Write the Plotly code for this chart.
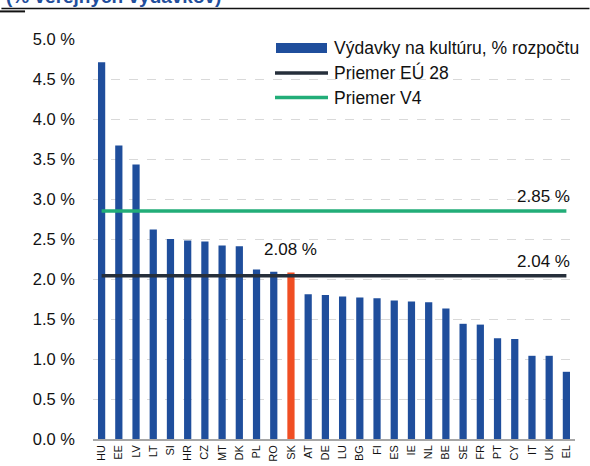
import plotly.graph_objects as go

categories = ["HU", "EE", "LV", "LT", "SI", "HR", "CZ", "MT", "DK", "PL", "RO", "SK",
              "AT", "DE", "LU", "BG", "FI", "ES", "IE", "NL", "BE", "SE", "FR", "PT",
              "CY", "IT", "UK", "EL"]
culture_share = [4.71, 3.67, 3.43, 2.62, 2.50, 2.48, 2.47, 2.42, 2.41, 2.12, 2.09, 2.08,
                 1.81, 1.80, 1.78, 1.77, 1.76, 1.73, 1.72, 1.71, 1.63, 1.44, 1.43, 1.26,
                 1.25, 1.04, 1.04, 0.84]
highlight = "SK"
highlight_label = "2.08 %"
eu28_avg = 2.04
v4_avg = 2.85
eu28_label = "2.04 %"
v4_label = "2.85 %"
y_tickvals = [0.0, 0.5, 1.0, 1.5, 2.0, 2.5, 3.0, 3.5, 4.0, 4.5, 5.0]
y_ticktext = ["0.0 %", "0.5 %", "1.0 %", "1.5 %", "2.0 %", "2.5 %", "3.0 %", "3.5 %",
              "4.0 %", "4.5 %", "5.0 %"]
legend_names = ["Výdavky na kultúru, % rozpočtu", "Priemer EÚ 28", "Priemer V4"]
title_text = "(% verejných výdavkov)"

BLUE = "#1F4E9C"
RED = "#F04E23"
DARK = "#262F3B"
GREEN = "#22AD78"
FONT = "Liberation Sans, Arial, sans-serif"

W, H = 590, 466
L, R, T, B = 93, 15, 39, 27
PW, PH = W - L - R, H - T - B


def px(x):
    return (x - L) / PW


def py(y):
    return (H - B - y) / PH


bar_colors = [RED if c == highlight else BLUE for c in categories]

fig = go.Figure()
fig.add_trace(go.Bar(x=categories, y=culture_share, marker=dict(color=bar_colors, line=dict(width=0)),
                     width=0.42, showlegend=False, hoverinfo="x+y"))
fig.add_trace(go.Scatter(x=[categories[0], categories[-1]], y=[eu28_avg, eu28_avg], mode="lines",
                         line=dict(color=DARK, width=3.5), showlegend=False))
fig.add_trace(go.Scatter(x=[categories[0], categories[-1]], y=[v4_avg, v4_avg], mode="lines",
                         line=dict(color=GREEN, width=3.5), showlegend=False))

annots = [
    dict(x=categories[-1], y=v4_avg, xref="x", yref="y", text=v4_label, showarrow=False,
         xanchor="right", yanchor="middle", xshift=6, yshift=15, font=dict(size=17, color="#111")),
    dict(x=categories[-1], y=eu28_avg, xref="x", yref="y", text=eu28_label, showarrow=False,
         xanchor="right", yanchor="middle", xshift=6, yshift=14, font=dict(size=17, color="#111")),
    dict(x=highlight, y=culture_share[categories.index(highlight)], xref="x", yref="y",
         text=highlight_label, showarrow=False, xanchor="center", yanchor="middle", yshift=23,
         font=dict(size=17, color="#111")),
    dict(x=px(4), y=py(-4), xref="paper", yref="paper", text="<b>" + title_text + "</b>",
         showarrow=False, xanchor="left", yanchor="middle", font=dict(size=19, color="#1F4E9C")),
]
legend_y = [48, 73, 97.5]
for name, yy in zip(legend_names, legend_y):
    annots.append(dict(x=px(332), y=py(yy), xref="paper", yref="paper", text=name, showarrow=False,
                       xanchor="left", yanchor="middle", font=dict(size=17.5, color="#111")))

shapes = [
    dict(type="line", xref="paper", yref="paper", x0=-0.19, x1=1.03, y0=1.076, y1=1.076,
         line=dict(color="#111111", width=1.5)),
    dict(type="line", xref="paper", yref="paper", x0=-0.193, x1=-0.141, y0=1.069, y1=1.069,
         line=dict(color="#111111", width=2)),
    dict(type="rect", xref="paper", yref="paper", x0=px(276), x1=px(327), y0=py(53), y1=py(43),
         fillcolor=BLUE, line=dict(width=0)),
    dict(type="line", xref="paper", yref="paper", x0=px(275), x1=px(328), y0=py(73), y1=py(73),
         line=dict(color=DARK, width=3.5)),
    dict(type="line", xref="paper", yref="paper", x0=px(275), x1=px(328), y0=py(97.5), y1=py(97.5),
         line=dict(color=GREEN, width=3.5)),
]

fig.update_layout(
    width=W, height=H,
    margin=dict(l=L, r=R, t=T, b=B, autoexpand=False),
    paper_bgcolor="white", plot_bgcolor="white",
    font=dict(family=FONT, color="#111"),
    showlegend=False,
    annotations=annots,
    shapes=shapes,
    bargap=0.5,
)
fig.update_xaxes(type="category", range=[-0.5, len(categories) - 0.5], tickangle=-90,
                 tickfont=dict(size=11, family=FONT, color="#111"), showgrid=False,
                 showline=True, linecolor="#A6A6A6", linewidth=1.5, ticks="", automargin=False,
                 fixedrange=True)
fig.update_yaxes(range=[0, 5], tickvals=y_tickvals, ticktext=y_ticktext,
                 tickfont=dict(size=16.5, family=FONT, color="#111"), showgrid=True,
                 gridcolor="#D9D9D9", griddash="dash", gridwidth=1, zeroline=False,
                 showline=False, ticks="", ticklabelstandoff=17, automargin=False, fixedrange=True)

fig.write_html("out.html", config={"displayModeBar": False},
               post_script="document.body.style.margin='0';document.body.style.overflow='hidden';")
